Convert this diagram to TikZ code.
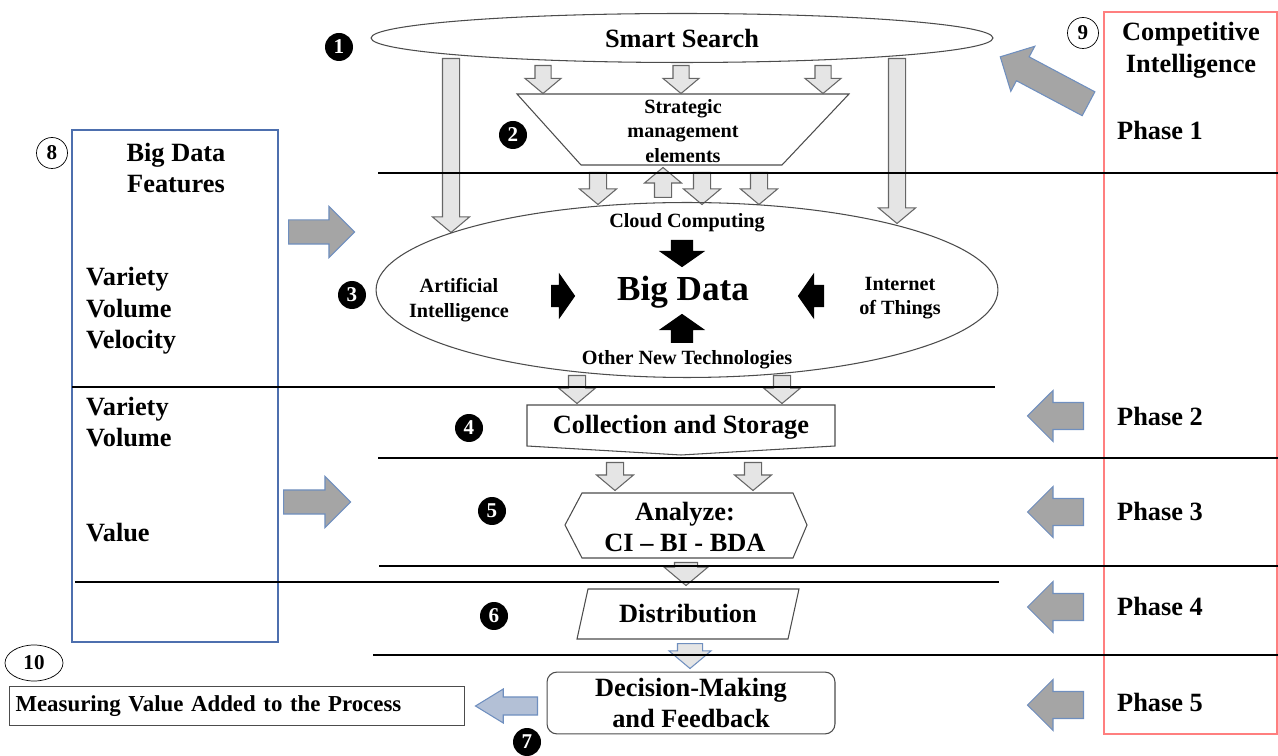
\documentclass[tikz,border=0pt]{standalone}
\usepackage{fontspec}
\setmainfont{Liberation Serif}
\usetikzlibrary{shapes.geometric,shapes.arrows}

\definecolor{phasegray}{HTML}{A5A5A5}
\definecolor{edgeblue}{HTML}{6F8FBF}
\definecolor{featblue}{HTML}{4D6FAE}
\definecolor{cired}{HTML}{FF7F7F}
\definecolor{valueblue}{HTML}{B3C0D6}

\newcommand{\fmain}{\fontsize{15}{18}\selectfont\bfseries}
\newcommand{\fsmall}{\fontsize{11.5}{14}\selectfont\bfseries}
\newcommand{\fbig}{\fontsize{20}{24}\selectfont\bfseries}
\newcommand{\fnum}{\fontsize{12}{12}\selectfont\bfseries}

\begin{document}
\begin{tikzpicture}[x=0.02cm,y=-0.02cm,
    every node/.style={font=\fmain},
    fat/.style={single arrow, inner xsep=0pt, anchor=tail, line width=0.6pt},
    hollow/.style={fat, draw=black!60, fill=black!10, inner ysep=0.16cm,
      single arrow head extend=0.2cm, single arrow tip angle=100},
    blk/.style={fat, draw=black, fill=black, inner ysep=0.2cm,
      single arrow head extend=0.22cm, single arrow tip angle=110},
    grayarr/.style={fat, draw=edgeblue, fill=phasegray, inner ysep=0.26cm,
      single arrow head extend=0.24cm, single arrow tip angle=90},
    num/.style={circle, fill=black, text=white, inner sep=0pt,
      minimum size=0.56cm, font=\fnum},
    opennum/.style={circle, draw, thin, inner sep=0pt, minimum size=0.62cm,
      font=\fnum},
    outline/.style={draw=black!70, line width=0.6pt},
    sep/.style={line width=1.5pt}]
  \useasboundingbox (0,0) rectangle (1278,756);

  % side frames
  \draw[featblue, line width=0.8pt] (72,130) rectangle (278,642);
  \draw[cired, line width=0.8pt] (1104,12) rectangle (1277,734);

  \node[opennum] (n8) at (52,153) {8};
  \node[align=center] (feat) at (176,168) {Big Data\\Features};
  \node[anchor=west, align=left] (v3) at (80,311) {Variety\\Volume\\Velocity};
  \node[anchor=west, align=left] (v2) at (80,422) {Variety\\Volume};
  \node[anchor=west] (val) at (80,533) {Value};
  \node[grayarr, minimum height=1.32cm, inner ysep=0.23cm,
    single arrow head extend=0.27cm] (fa1) at (288,232) {};
  \node[grayarr, minimum height=1.34cm, inner ysep=0.23cm,
    single arrow head extend=0.27cm] (fa2) at (283,502) {};

  \node[opennum] (n9) at (1083,33) {9};
  \node[align=center] (ci) at (1191,50) {Competitive\\Intelligence};
  \node[anchor=west] (ph1) at (1111,130) {Phase 1};
  \node[anchor=west] (ph2) at (1111,416) {Phase 2};
  \node[anchor=west] (ph3) at (1111,511) {Phase 3};
  \node[anchor=west] (ph4) at (1111,606) {Phase 4};
  \node[anchor=west] (ph5) at (1111,702) {Phase 5};
  \node[grayarr, rotate=152, minimum height=2cm] (pa1) at (1089,104) {};
  \foreach \y/\n in {416/2,512/3,607/4,705/5}
    \node[grayarr, rotate=180, minimum height=1.12cm] (pa\n) at (1084,\y) {};

  % phase 1
  \node[ellipse, outline, minimum width=12.44cm, minimum height=0.98cm]
    (search) at (682,38) {Smart Search};
  \node[num] (n1) at (339,47) {1};
  \draw[outline] (517,94) -- (849,94) -- (782,165) -- (581,165) -- cycle;
  \node[font=\fsmall, align=center] (sme) at (683,131) {Strategic\\management\\elements};
  \node[num] (n2) at (513,135) {2};
  \foreach \x/\n in {543/a,681/b,823/c}
    \node[hollow, rotate=-90, minimum height=0.56cm, inner ysep=0.15cm] (s\n) at (\x,65) {};
  \node[hollow, rotate=-90, minimum height=3.48cm] (tl) at (451,58) {};
  \node[hollow, rotate=-90, minimum height=3.3cm] (tr) at (897,58) {};
  \foreach \x/\n in {598/a,702/b,759/c}
    \node[hollow, rotate=-90, minimum height=0.64cm] (d\n) at (\x,172) {};
  \node[hollow, rotate=90, minimum height=0.6cm] (up) at (663,198) {};

  % big data
  \node[ellipse, outline, minimum width=12.44cm, minimum height=3.5cm] (bd) at (687,290) {};
  \node[num] (n3) at (352,295) {3};
  \node[font=\fsmall] (cloud) at (687,223) {Cloud Computing};
  \node[font=\fbig] (big) at (683,292) {Big Data};
  \node[font=\fsmall, align=center] (ai) at (459,300) {Artificial\\Intelligence};
  \node[font=\fsmall, align=center] (iot) at (900,298) {Internet\\of Things};
  \node[font=\fsmall] (other) at (687,360) {Other New Technologies};
  \node[blk, rotate=-90, minimum height=0.52cm] (b1) at (682,240) {};
  \node[blk, rotate=90, minimum height=0.56cm] (b2) at (682,343) {};
  \node[blk, minimum height=0.46cm] (b3) at (551,296) {};
  \node[blk, rotate=180, minimum height=0.5cm] (b4) at (824,296) {};

  % phase 2 and 3
  \node[hollow, rotate=-90, minimum height=0.56cm] (ca) at (577,375) {};
  \node[hollow, rotate=-90, minimum height=0.56cm] (cb) at (782,375) {};
  \draw[outline, fill=white] (527,405) -- (835,405) -- (835,446) -- (681,455) -- (527,446) -- cycle;
  \node (store) at (681,427) {Collection and Storage};
  \node[num] (n4) at (469,428) {4};
  \node[hollow, rotate=-90, minimum height=0.56cm] (aa) at (615,462) {};
  \node[hollow, rotate=-90, minimum height=0.56cm] (ab) at (753,462) {};
  \draw[outline] (582,493) -- (793,493) -- (807,525) -- (793,558) -- (582,558) -- (565,525) -- cycle;
  \node[align=center] (analyze) at (685,527) {Analyze:\\CI – BI - BDA};
  \node[num] (n5) at (492,511) {5};

  % phase 4 and 5
  \node[hollow, rotate=-90, minimum height=0.46cm, inner ysep=0.22cm,
    single arrow head extend=0.21cm] (ad) at (686,562) {};
  \draw[outline] (588,589) -- (799,589) -- (788,639) -- (577,639) -- cycle;
  \node (dist) at (688,614) {Distribution};
  \node[num] (n6) at (494,616) {6};
  \node[hollow, draw=edgeblue, rotate=-90, minimum height=0.5cm, inner ysep=0.24cm,
    single arrow head extend=0.17cm] (dd) at (690,643) {};
  \node[outline, rounded corners=0.2cm, minimum width=5.76cm, minimum height=1.22cm,
    align=center] (decide) at (691,703) {Decision-Making\\and Feedback};
  \node[num] (n7) at (527,742) {7};
  \node[fat, draw=edgeblue, fill=valueblue, rotate=180, minimum height=1.24cm,
    inner ysep=0.17cm, single arrow head extend=0.16cm, single arrow tip angle=63]
    (va) at (538,706) {};
  \node[outline, text width=8.86cm, inner xsep=0.12cm, minimum height=0.78cm,
    align=left, font=\fontsize{13}{15}\selectfont\bfseries] (measure) at (237,706)
    {Measuring Value Added to the Process};
  \node[ellipse, draw, thin, minimum width=1.16cm, minimum height=0.72cm,
    inner sep=0pt, font=\fnum] (n10) at (34,663) {10};

  % phase separators
  \draw[sep] (378,173) -- (1278,173);
  \draw[sep] (72,387) -- (995,387);
  \draw[sep] (378,458) -- (1278,458);
  \draw[sep] (379,566) -- (1278,566);
  \draw[sep] (75,582) -- (999,582);
  \draw[sep] (373,655) -- (1278,655);
\end{tikzpicture}
\end{document}
